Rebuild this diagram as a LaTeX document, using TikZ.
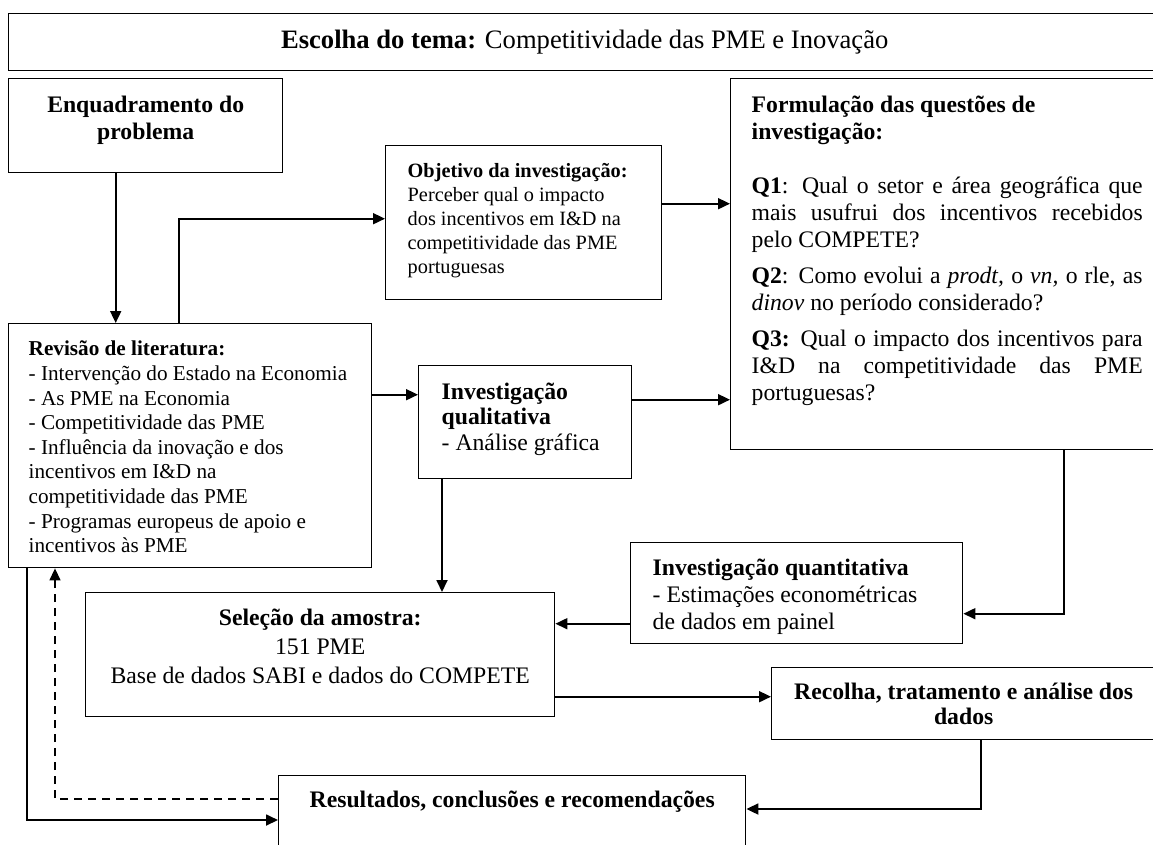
\documentclass[tikz,border=0pt]{standalone}
\usepackage{fontspec}
\setmainfont{Liberation Serif}
\usepackage{tikz}
\usetikzlibrary{arrows.meta,calc}

% box content: width, height, top padding, text
\newcommand{\boxtext}[4]{\parbox[t][#2][t]{#1}{\vspace*{#3}#4\par}}
\newcommand{\bodyfont}{\fontsize{23.7pt}{27pt}\selectfont}
\newcommand{\revfont}{\fontsize{21.2pt}{24.6pt}\selectfont}
\newcommand{\objfont}{\fontsize{20.3pt}{24pt}\selectfont}
\newcommand{\titlefont}{\fontsize{26.6pt}{30pt}\selectfont}

\begin{document}
\begin{tikzpicture}[x=1pt, y=-1pt,
    stage/.style={draw, line width=1.4pt, inner ysep=0pt, inner xsep=21pt, anchor=north west},
    flow/.style={line width=1.8pt, -{Triangle[length=12pt, width=11pt]}},
    back/.style={line width=1.4pt, dash pattern=on 8pt off 6pt, -{Triangle[length=12pt, width=11pt]}}
]
    \useasboundingbox (0,0) rectangle (1153,844);
    \clip (0,0) rectangle (1153,844);

    % Theme banner
    \node[stage, font=\titlefont, minimum width=1152pt, minimum height=57pt, inner xsep=0pt] (tema) at (8,13)
        {\textbf{Escolha do tema:} Competitividade das PME e Inovação};

    % Left column
    \node[stage, font=\bodyfont, inner xsep=0pt] (enq) at (8,78)
        {\boxtext{274pt}{94pt}{17pt}{\centering\textbf{Enquadramento do}\\\textbf{problema}}};
    \node[stage, font=\revfont, inner xsep=20pt] (rev) at (8,323)
        {\boxtext{323pt}{244pt}{17.5pt}{\raggedright\textbf{Revisão de literatura:}\\
        - Intervenção do Estado na Economia\\
        - As PME na Economia\\
        - Competitividade das PME\\
        - Influência da inovação e dos\\
        incentivos em I\&D na\\
        competitividade das PME\\
        - Programas europeus de apoio e\\
        incentivos às PME}};

    % Middle column
    \node[stage, font=\objfont, inner xsep=22pt] (obj) at (385,145)
        {\boxtext{232pt}{154pt}{18pt}{\raggedright\textbf{Objetivo da investigação:}\\
        Perceber qual o impacto\\dos incentivos em I\&D na\\competitividade das PME\\portuguesas}};
    \node[stage, font=\fontsize{23.7pt}{25.5pt}\selectfont, inner xsep=23pt] (qual) at (418,365)
        {\boxtext{167pt}{113pt}{17pt}{\raggedright\textbf{Investigação}\\\textbf{qualitativa}\\- Análise gráfica}};

    % Research questions
    \node[stage, font=\bodyfont] (quest) at (730,78)
        {\boxtext{391pt}{371pt}{17pt}{\raggedright
        \textbf{Formulação das questões de}\\
        \textbf{investigação:}\\[27pt]
        \makebox[\linewidth][s]{\textbf{Q1}: Qual o setor e área geográfica que}\\
        \makebox[\linewidth][s]{mais usufrui dos incentivos recebidos}\\
        pelo COMPETE?\\[9pt]
        \makebox[\linewidth][s]{\textbf{Q2}: Como evolui a \textit{prodt,} o \textit{vn,} o rle, as}\\
        \textit{dinov} no período considerado?\\[9pt]
        \makebox[\linewidth][s]{\textbf{Q3:} Qual o impacto dos incentivos para}\\
        \makebox[\linewidth][s]{I\&D na competitividade das PME}\\
        portuguesas?}};

    % Lower part
    \node[stage, font=\bodyfont, inner xsep=22pt] (quant) at (630,542)
        {\boxtext{288pt}{101pt}{16pt}{\raggedright\textbf{Investigação quantitativa}\\
        - Estimações econométricas\\de dados em painel}};
    \node[stage, font=\fontsize{23.7pt}{29pt}\selectfont, inner xsep=0pt] (sel) at (85,592)
        {\boxtext{469pt}{124pt}{16pt}{\centering\textbf{Seleção da amostra:}\\151 PME\\
        Base de dados SABI e dados do COMPETE}};
    \node[stage, font=\fontsize{23.7pt}{25pt}\selectfont, minimum width=384pt, minimum height=72pt,
          inner xsep=0pt, align=center] (rec) at (771,667)
        {\textbf{Recolha, tratamento e análise dos}\\\textbf{dados}};
    \node[stage, font=\bodyfont, inner xsep=0pt] (res) at (278,775)
        {\boxtext{467pt}{95pt}{15pt}{\centering\textbf{Resultados, conclusões e recomendações}}};

    % Connections
    \draw[flow] ([xshift=-30pt]enq.south) -- ([xshift=-30pt]enq.south |- rev.north);
    \draw[flow] ([xshift=171pt]rev.north west) |- ([yshift=4pt]obj.west);
    \draw[flow] ([yshift=19pt]obj.east) -- ([yshift=19pt]obj.east -| quest.west);
    \draw[flow] ([yshift=27.5pt]qual.west -| rev.east) -- ([yshift=27.5pt]qual.west);
    \draw[flow] ([yshift=22.5pt]qual.east) -- ([yshift=22.5pt]qual.east -| quest.west);
    \draw[flow] ([xshift=24pt]qual.south west) -- ([xshift=24pt]qual.south west |- sel.north);
    \draw[flow] ([xshift=334pt]quest.south west) |- ([yshift=-20.5pt]quant.east);
    \draw[flow] ([yshift=-30.5pt]quant.west) -- ([yshift=-30.5pt]quant.west -| sel.east);
    \draw[flow] ([yshift=7pt]rec.west -| sel.east) -- ([yshift=7pt]rec.west);
    \draw[flow] ([xshift=17pt]rec.south) |- ([yshift=-34pt]res.north east);

    % Feedback loops
    \draw[back] ([yshift=-24pt]res.north west) -| ([xshift=47pt]rev.south west);
    \draw[flow] ([xshift=19pt]rev.south west) |- ([yshift=-45pt]res.north west);
\end{tikzpicture}
\end{document}
